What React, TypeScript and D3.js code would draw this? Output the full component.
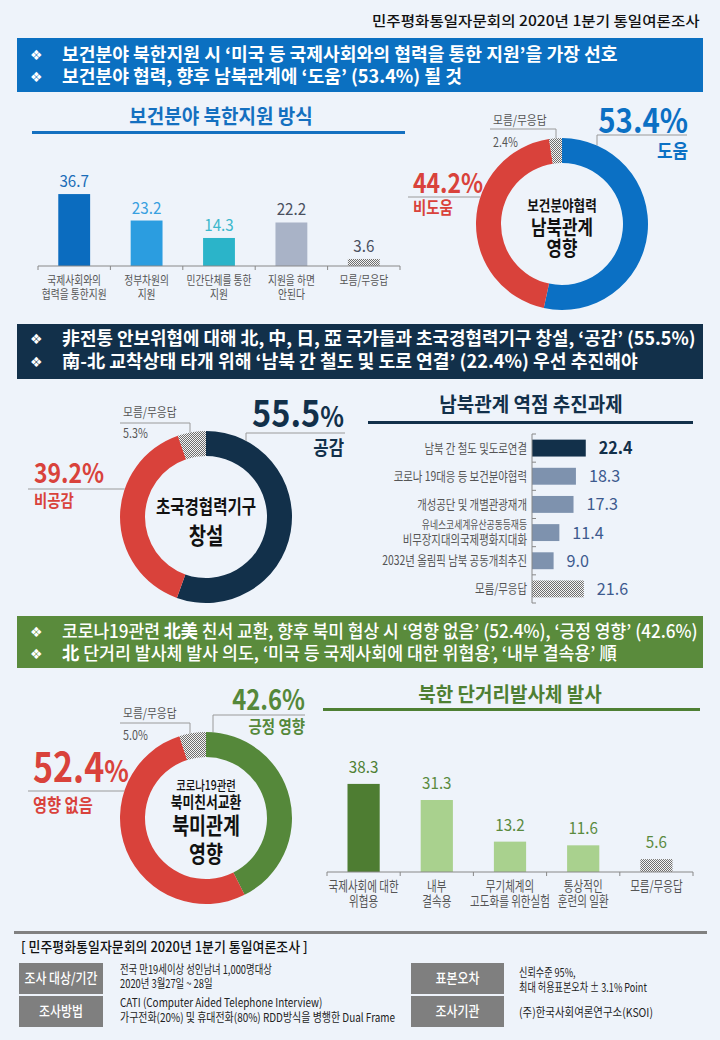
import { useLayoutEffect, useRef, useState } from "react";
import * as d3 from "d3";

// ---- data ----
const supportCats = [["국제사회와의", "협력을 통한지원"], ["정부차원의", "지원"], ["민간단체를 통한", "지원"], ["지원을 하면", "안된다"], ["모름/무응답"]];
const supportVals = [36.7, 23.2, 14.3, 22.2, 3.6];

const impactLabels = ["도움", "비도움", "모름/무응답"];
const impactVals = [53.4, 44.2, 2.4];

const agencyLabels = ["공감", "비공감", "모름/무응답"];
const agencyVals = [55.5, 39.2, 5.3];

const taskCats = [["남북 간 철도 및도로연결"], ["코로나 19대응 등 보건분야협력"], ["개성공단 및 개별관광재개"], ["유네스코세계유산공동등재등", "비무장지대의국제평화지대화"], ["2032년 올림픽 남북 공동개최추진"], ["모름/무응답"]];
const taskVals = [22.4, 18.3, 17.3, 11.4, 9.0, 21.6];

const letterLabels = ["긍정 영향", "영향 없음", "모름/무응답"];
const letterVals = [42.6, 52.4, 5.0];

const launchCats = [["국제사회에 대한", "위협용"], ["내부", "결속용"], ["무기체계의", "고도화를 위한실험"], ["통상적인", "훈련의 일환"], ["모름/무응답"]];
const launchVals = [38.3, 31.3, 13.2, 11.6, 5.6];

const fmt = d3.format(".1f");
const HATCH = "url(#hatch)";
const R = 86;
const R0 = 61;

// text drawn condensed; `lines` puts several rows in one <text>
function T({ x, y, s = 13, w = 400, fill = "#333", a = "start", sx = 0.86, children, lines }: any) {
  return (
    <text transform={`translate(${x},${y}) scale(${sx},1)`} fontSize={s} fontWeight={w} fill={fill} textAnchor={a}>
      {lines
        ? lines.map((l: any, i: number) => (
            <tspan key={i} x={0} dy={l.dy ?? 0} fontSize={l.s ?? s} fontWeight={l.w ?? w}>
              {l.t}
            </tspan>
          ))
        : children}
    </text>
  );
}

// single line squeezed to a measured width
function Fit({ x, y, len, s = 18, w = 700, fill = "#fff", children }: any) {
  const ref = useRef<SVGTextElement>(null);
  const [sx, setSx] = useState(1);
  useLayoutEffect(() => {
    const el = ref.current;
    if (!el) return;
    const n = el.getComputedTextLength();
    if (n > 0) setSx(len / n);
  }, [len]);
  return (
    <text ref={ref} transform={`translate(${x},${y}) scale(${sx},1)`} fontSize={s} fontWeight={w} fill={fill}>
      {children}
    </text>
  );
}

function Banner({ y, h, color, lines }: any) {
  return (
    <g>
      <rect x={17} y={y} width={686} height={h} fill={color} />
      {lines.map((l: any, i: number) => (
        <g key={i}>
          <text x={30} y={l.y - 1} fontSize={14} fill="#fff" fontFamily="DejaVu Sans">❖</text>
          <Fit x={62} y={l.y} len={l.len} w={l.w ?? 700}>{l.text}</Fit>
        </g>
      ))}
    </g>
  );
}

function Donut({ cx, cy, vals, colors }: any) {
  const pie = d3.pie<number>().sort(null).value((d) => d);
  const arc = d3.arc<d3.PieArcDatum<number>>().innerRadius(R0).outerRadius(R);
  return (
    <g transform={`translate(${cx},${cy})`}>
      {pie(vals).map((a, i) => (
        <path key={i} d={arc(a) as string} fill={colors[i]} />
      ))}
    </g>
  );
}

const ringLeftX = (cx: number, cy: number, y: number) => cx - Math.sqrt(R * R - (y - cy) * (y - cy));
const ringTopY = (cx: number, cy: number, x: number) => cy - Math.sqrt(R * R - (x - cx) * (x - cx));

function VBars({ cats, vals, range, base, k, colors, valColors, valGap, labelY, labelSize, labelGap, valSize, labelSx }: any) {
  const x = d3.scaleBand<number>().domain(vals.map((_: any, i: number) => i)).range(range).paddingInner(0.56).paddingOuter(0.28);
  const y = d3.scaleLinear().domain([0, 40]).range([base, base - 40 * k]);
  const ticks = d3.range(vals.length + 1).map((i) => range[0] + i * x.step());
  return (
    <g>
      {vals.map((v: number, i: number) => (
        <g key={i}>
          <rect x={x(i)} y={y(v)} width={x.bandwidth()} height={base - y(v)} fill={colors[i]} />
          <T x={x(i)! + x.bandwidth() / 2} y={y(v) - valGap} s={valSize} fill={valColors[i]} a="middle" sx={0.95}>
            {fmt(v)}
          </T>
          <T
            x={x(i)! + x.bandwidth() / 2}
            y={labelY}
            s={labelSize}
            fill="#555"
            a="middle"
            sx={labelSx}
            lines={cats[i].map((c: string, j: number) => ({ t: c, dy: j ? labelGap : 0 }))}
          />
        </g>
      ))}
      <line x1={range[0]} x2={range[1]} y1={base} y2={base} stroke="#888" />
      {ticks.map((t, i) => (
        <line key={i} x1={t} x2={t} y1={base} y2={base + 4} stroke="#888" />
      ))}
    </g>
  );
}

function HBars() {
  const top = 434, bottom = 603, x0 = 532;
  const y = d3.scaleBand<number>().domain(taskVals.map((_, i) => i)).range([top, bottom]).paddingInner(0.4).paddingOuter(0.2);
  const x = d3.scaleLinear().domain([0, 40]).range([x0, x0 + 96]);
  const colors = ["#12304A", "#7E92AE", "#7E92AE", "#7E92AE", "#7E92AE", HATCH];
  const ticks = d3.range(taskVals.length + 1).map((i) => top + i * y.step());
  return (
    <g>
      {taskVals.map((v, i) => {
        const cy = y(i)! + y.bandwidth() / 2;
        const cat = taskCats[i];
        return (
          <g key={i}>
            <rect x={x0} y={y(i)} width={x(v) - x0} height={y.bandwidth()} fill={colors[i]} />
            <T x={x(v) + 13} y={cy + 6} s={17} w={i === 0 ? 700 : 400} fill={i === 0 ? "#12304A" : "#3D5A8E"} sx={0.95}>
              {fmt(v)}
            </T>
            {cat.length === 1 ? (
              <T x={527} y={cy + 4.5} s={13} fill="#555" a="end" sx={0.8}>{cat[0]}</T>
            ) : (
              <T x={527} y={cy - 4} s={13} fill="#555" a="end" sx={0.8} lines={[{ t: cat[0], s: 11 }, { t: cat[1], dy: 15 }]} />
            )}
          </g>
        );
      })}
      <line x1={x0} x2={x0} y1={top} y2={bottom} stroke="#888" />
      {ticks.map((t, i) => (
        <line key={i} x1={x0} x2={x0 + 4} y1={t} y2={t} stroke="#888" />
      ))}
    </g>
  );
}

const blueLines = [
  { text: "보건분야 북한지원 시 ‘미국 등 국제사회와의 협력을 통한 지원’을 가장 선호", y: 61, len: 556 },
  { text: "보건분야 협력, 향후 남북관계에 ‘도움’ (53.4%) 될 것", y: 83, len: 400 },
];
const navyLines = [
  { text: "非전통 안보위협에 대해 北, 中, 日, 亞 국가들과 초국경협력기구 창설, ‘공감’ (55.5%)", y: 345, len: 634 },
  { text: "南-北 교착상태 타개 위해 ‘남북 간 철도 및 도로 연결’ (22.4%) 우선 추진해야", y: 368, len: 576 },
];
const greenLines = [
  { text: <>코로나19관련 <tspan fontWeight={700}>北美</tspan> 친서 교환, 향후 북미 협상 시 ‘영향 없음’ (52.4%), ‘긍정 영향’ (42.6%)</>, y: 638, len: 636, w: 500 },
  { text: <><tspan fontWeight={700}>北</tspan> 단거리 발사체 발사 의도, ‘미국 등 국제사회에 대한 위협용’, ‘내부 결속용’ 順</>, y: 660, len: 555, w: 500 },
];

export default function App() {
  const red = "#D9423B";
  const blue = "#0B70C4";
  const navy = "#12304A";
  const green = "#55883A";
  const d1 = { cx: 562, cy: 224 };
  const d2 = { cx: 206, cy: 517 };
  const d3c = { cx: 206, cy: 818 };
  const lead = "#9A9A9A";
  return (
    <div>
      <style>{`body{margin:0;background:#EEF3FA}`}</style>
      <svg width={720} height={1040} style={{ display: "block" }} fontFamily="'Noto Sans CJK KR', 'Noto Sans', sans-serif">
        <defs>
          <pattern id="hatch" width={2} height={2} patternUnits="userSpaceOnUse">
            <rect width={2} height={2} fill="#F4F4F4" />
            <rect width={1} height={1} fill="#6E6E6E" />
            <rect x={1} y={1} width={1} height={1} fill="#6E6E6E" />
          </pattern>
        </defs>
        <rect width={720} height={1040} fill="#EEF3FA" />

        <Fit x={372} y={26} len={328} s={14} w={500} fill="#111">민주평화통일자문회의  2020년 1분기 통일여론조사</Fit>

        <Banner y={38} h={54} color="#0B70C1" lines={blueLines} />

        {/* section 1 */}
        <T x={221} y={124} s={20} w={700} fill="#1470C0" a="middle" sx={0.95}>보건분야 북한지원 방식</T>
        <rect x={32} y={131} width={373} height={3} fill="#1470C0" />
        <VBars
          cats={supportCats}
          vals={supportVals}
          range={[38, 400]}
          base={266}
          k={1.96}
          colors={["#0B6CBF", "#2B9DE0", "#2BB4C9", "#A9B3C7", HATCH]}
          valColors={["#1A6DB8", "#38A0E0", "#3CB8CC", "#4A5060", "#4A5060"]}
          valGap={7}
          valSize={16}
          labelY={285}
          labelSize={12.5}
          labelGap={13.5}
          labelSx={0.78}
        />

        <Donut cx={d1.cx} cy={d1.cy} vals={impactVals} colors={[blue, red, HATCH]} />
        <polyline points={`597,${ringTopY(d1.cx, d1.cy, 597)} 597,135 687,135`} fill="none" stroke={lead} />
        <polyline points={`556,${ringTopY(d1.cx, d1.cy, 556)} 556,129 490,129`} fill="none" stroke={lead} />
        <line x1={408} x2={ringLeftX(d1.cx, d1.cy, 197)} y1={197} y2={197} stroke={lead} />
        <T x={688} y={133} w={700} fill={blue} a="end" sx={0.89}
          lines={[{ t: `${fmt(impactVals[0])}%`, s: 33 }, { t: impactLabels[0], s: 19, dy: 25 }]} />
        <T x={493} y={125} s={12.5} fill="#555" lines={[{ t: impactLabels[2] }, { t: `${fmt(impactVals[2])}%`, dy: 22 }]} />
        <T x={413} y={193} w={700} fill={red} sx={0.85}
          lines={[{ t: `${fmt(impactVals[1])}%`, s: 27 }, { t: impactLabels[1], s: 17, dy: 21 }]} />
        <T x={562} y={211} fill="#111" a="middle" sx={0.84} w={700}
          lines={[{ t: "보건분야협력", s: 15 }, { t: "남북관계", s: 20, dy: 24 }, { t: "영향", s: 20, dy: 21 }]} />

        <Banner y={324} h={55} color="#12304A" lines={navyLines} />

        {/* section 2 */}
        <Donut cx={d2.cx} cy={d2.cy} vals={agencyVals} colors={[navy, red, HATCH]} />
        <polyline points={`246,${ringTopY(d2.cx, d2.cy, 246)} 246,433 345,433`} fill="none" stroke={lead} />
        <polyline points={`190,${ringTopY(d2.cx, d2.cy, 190)} 190,423 120,423`} fill="none" stroke={lead} />
        <line x1={28} x2={ringLeftX(d2.cx, d2.cy, 489)} y1={489} y2={489} stroke={lead} />
        <T x={344} y={427} w={700} fill={navy} a="end" sx={0.88}
          lines={[{ t: <>{fmt(agencyVals[0])}<tspan fontSize={28}>%</tspan></>, s: 37 }, { t: agencyLabels[0], s: 19, dy: 28 }]} />
        <T x={123} y={417} s={12.5} fill="#555" lines={[{ t: agencyLabels[2] }, { t: `${fmt(agencyVals[2])}%`, dy: 21 }]} />
        <T x={34} y={483} w={700} fill={red} sx={0.85}
          lines={[{ t: `${fmt(agencyVals[1])}%`, s: 27 }, { t: agencyLabels[1], s: 17, dy: 24 }]} />
        <T x={206} y={514} fill="#111" a="middle" sx={0.82} w={700}
          lines={[{ t: "초국경협력기구", s: 19 }, { t: "창설", s: 23, dy: 30 }]} />

        <T x={531} y={412} s={20} w={700} fill={navy} a="middle" sx={0.95}>남북관계 역점 추진과제</T>
        <rect x={368} y={421} width={325} height={3} fill={navy} />
        <HBars />

        <Banner y={616} h={52} color="#5A8B3C" lines={greenLines} />

        {/* section 3 */}
        <Donut cx={d3c.cx} cy={d3c.cy} vals={letterVals} colors={[green, red, HATCH]} />
        <polyline points={`213,${ringTopY(d3c.cx, d3c.cy, 213)} 213,715 305,715`} fill="none" stroke={lead} />
        <polyline points={`190,${ringTopY(d3c.cx, d3c.cy, 190)} 190,723 120,723`} fill="none" stroke={lead} />
        <line x1={28} x2={ringLeftX(d3c.cx, d3c.cy, 791)} y1={791} y2={791} stroke={lead} />
        <T x={305} y={710} w={700} fill={green} a="end" sx={0.85}
          lines={[{ t: `${fmt(letterVals[0])}%`, s: 28 }, { t: letterLabels[0], s: 17, dy: 23 }]} />
        <T x={123} y={718} s={12.5} fill="#555" lines={[{ t: letterLabels[2] }, { t: `${fmt(letterVals[2])}%`, dy: 22 }]} />
        <T x={33} y={782} w={700} fill={red} sx={0.85}
          lines={[{ t: <>{fmt(letterVals[1])}<tspan fontSize={30}>%</tspan></>, s: 40 }, { t: letterLabels[1], s: 18, dy: 30 }]} />
        <T x={206} y={790} fill="#111" a="middle" sx={0.8} w={700}
          lines={[
            { t: "코로나19관련", s: 13, w: 500 },
            { t: "북미친서교환", s: 16, dy: 18 },
            { t: "북미관계", s: 23, dy: 26 },
            { t: "영향", s: 23, dy: 28 },
          ]} />

        <T x={510} y={702} s={20} w={700} fill="#4E7F33" a="middle" sx={0.95}>북한 단거리발사체 발사</T>
        <rect x={323} y={708} width={377} height={3} fill="#4E7F33" />
        <VBars
          cats={launchCats}
          vals={launchVals}
          range={[327, 693]}
          base={872}
          k={2.3}
          colors={["#4E7D32", "#A9D18E", "#A9D18E", "#A9D18E", HATCH]}
          valColors={["#4E7F33", "#5A8A3E", "#5A8A3E", "#5A8A3E", "#5A8A3E"]}
          valGap={11}
          valSize={16}
          labelY={891}
          labelSize={13.5}
          labelGap={15}
          labelSx={0.78}
        />

        {/* footer */}
        <rect x={14} y={931} width={693} height={3} fill="#808080" />
        <Fit x={21} y={952} len={287} s={14} w={500} fill="#111">[ 민주평화통일자문회의 2020년 1분기 통일여론조사 ]</Fit>
        {[
          { x: 19, y: 963, w: 84, t: "조사 대상/기간" },
          { x: 19, y: 996, w: 84, t: "조사방법" },
          { x: 411, y: 963, w: 93, t: "표본오차" },
          { x: 411, y: 996, w: 93, t: "조사기관" },
        ].map((b, i) => (
          <g key={i}>
            <rect x={b.x} y={b.y} width={b.w} height={31} fill="#7F7F7F" />
            <T x={b.x + b.w / 2} y={b.y + 20} s={14} w={500} fill="#fff" a="middle" sx={0.85}>{b.t}</T>
          </g>
        ))}
        <T x={120} y={974} s={12} fill="#222" sx={0.78}
          lines={[{ t: "전국 만19세이상 성인남녀 1,000명대상" }, { t: "2020년 3월27일 ~ 28일", dy: 14 }]} />
        <T x={120} y={1007} s={12} fill="#222" sx={0.83}
          lines={[{ t: "CATI (Computer Aided Telephone Interview)" }, { t: "가구전화(20%) 및 휴대전화(80%) RDD방식을 병행한 Dual Frame", dy: 15 }]} />
        <T x={519} y={977} s={12} fill="#222" sx={0.76}
          lines={[{ t: "신뢰수준 95%," }, { t: "최대 허용표본오차 ± 3.1% Point", dy: 15 }]} />
        <Fit x={519} y={1017} len={134} s={12} w={400} fill="#222">(주)한국사회여론연구소(KSOI)</Fit>
      </svg>
    </div>
  );
}
